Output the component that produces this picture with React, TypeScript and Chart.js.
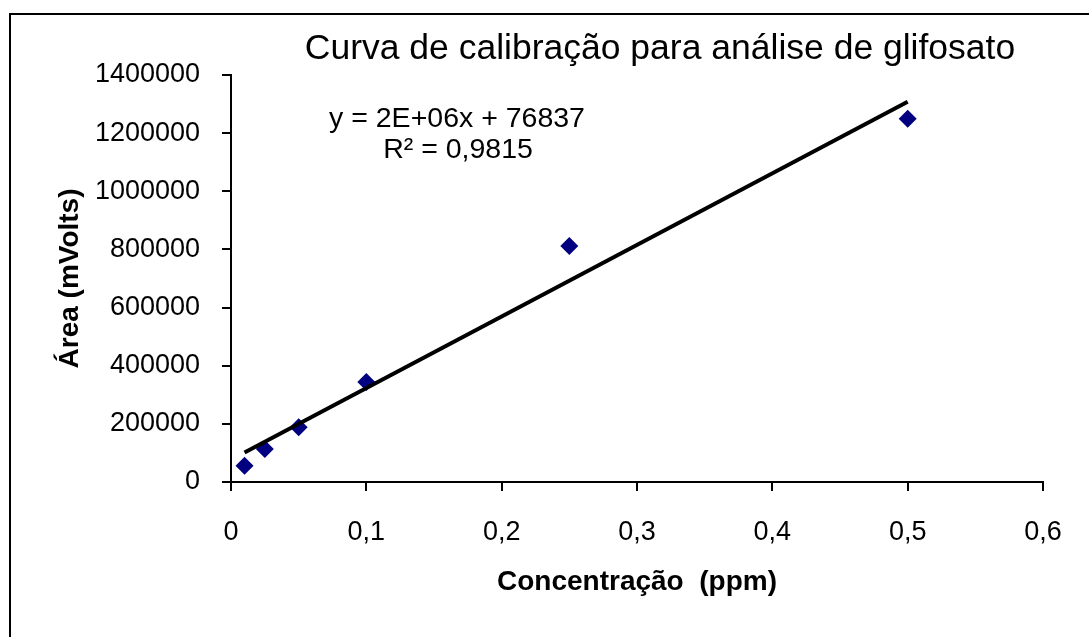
import React, { useEffect, useRef } from "react";
import { Chart, registerables } from "chart.js";

Chart.register(...registerables);

const concentrations = [0.01, 0.025, 0.05, 0.1, 0.25, 0.5];
const areas = [56000, 113600, 188300, 344000, 812000, 1249500];
const trendX = [0.01, 0.5];
const trendY = [101500, 1308000];
const chartTitle = "Curva de calibração para análise de glifosato";
const equationLines = ["y = 2E+06x + 76837", "R² = 0,9815"];
const xTitle = "Concentração  (ppm)";
const yTitle = "Área (mVolts)";

const FONT = '"Liberation Sans", Arial, sans-serif';

const overlayPlugin = {
  id: "overlay",
  afterDraw(chart: any) {
    const ctx = chart.ctx;
    ctx.save();
    ctx.strokeStyle = "#000";
    ctx.lineWidth = 2;
    ctx.beginPath();
    ctx.moveTo(10, 640);
    ctx.lineTo(10, 14);
    ctx.lineTo(1100, 14);
    ctx.stroke();
    ctx.fillStyle = "#000";
    ctx.textAlign = "center";
    ctx.textBaseline = "alphabetic";
    ctx.font = `35.5px ${FONT}`;
    ctx.fillText(chartTitle, 660, 59);
    ctx.font = `28.5px ${FONT}`;
    ctx.fillText(equationLines[0], 457, 127);
    ctx.fillText(equationLines[1], 458, 158);
    ctx.restore();
  },
};

export default function App() {
  const ref = useRef<HTMLCanvasElement>(null);
  useEffect(() => {
    if (!ref.current) return;
    const chart = new Chart(ref.current, {
      type: "scatter",
      data: {
        datasets: [
          {
            type: "line",
            data: trendX.map((x, i) => ({ x, y: trendY[i] })),
            borderColor: "#000",
            borderWidth: 4,
            pointRadius: 0,
            fill: false,
            order: 0,
          } as any,
          {
            type: "scatter",
            data: concentrations.map((x, i) => ({ x, y: areas[i] })),
            pointStyle: "rectRot",
            pointRadius: 9,
            backgroundColor: "#000080",
            borderColor: "#000080",
            borderWidth: 0,
            order: 1,
          },
        ],
      },
      options: {
        responsive: false,
        animation: false,
        layout: { padding: { top: 75, right: 46, bottom: 0, left: 0 } },
        plugins: {
          legend: { display: false },
          tooltip: { enabled: false },
          title: { display: false },
        },
        scales: {
          x: {
            type: "linear",
            min: 0,
            max: 0.6,
            afterFit: (s: any) => {
              s.height = 155;
            },
            ticks: {
              stepSize: 0.1,
              padding: 25,
              color: "#000",
              font: { family: FONT, size: 27 },
              callback: (v: any) => String(Number(Number(v).toFixed(1))).replace(".", ","),
            },
            grid: { drawOnChartArea: false, drawTicks: true, tickLength: 9, color: "#000", lineWidth: 2 },
            border: { display: true, color: "#000", width: 2 },
            title: {
              display: true,
              text: xTitle,
              color: "#000",
              font: { family: FONT, size: 28, weight: "bold" },
              padding: { top: 0, bottom: 38 },
            },
          },
          y: {
            type: "linear",
            min: 0,
            max: 1400000,
            afterFit: (s: any) => {
              s.width = 231;
            },
            ticks: {
              stepSize: 200000,
              padding: 22,
              color: "#000",
              font: { family: FONT, size: 27 },
              callback: (v: any) => String(v),
            },
            grid: { drawOnChartArea: false, drawTicks: true, tickLength: 9, color: "#000", lineWidth: 2 },
            border: { display: true, color: "#000", width: 2 },
            title: {
              display: true,
              text: yTitle,
              color: "#000",
              font: { family: FONT, size: 28, weight: "bold" },
              padding: { top: 53, bottom: 0 },
            },
          },
        },
      },
      plugins: [overlayPlugin],
    } as any);
    return () => chart.destroy();
  }, []);
  return (
    <div style={{ position: "fixed", left: 0, top: 0, width: 1089, height: 637, background: "#fff" }}>
      <canvas ref={ref} width={1089} height={637} />
    </div>
  );
}
